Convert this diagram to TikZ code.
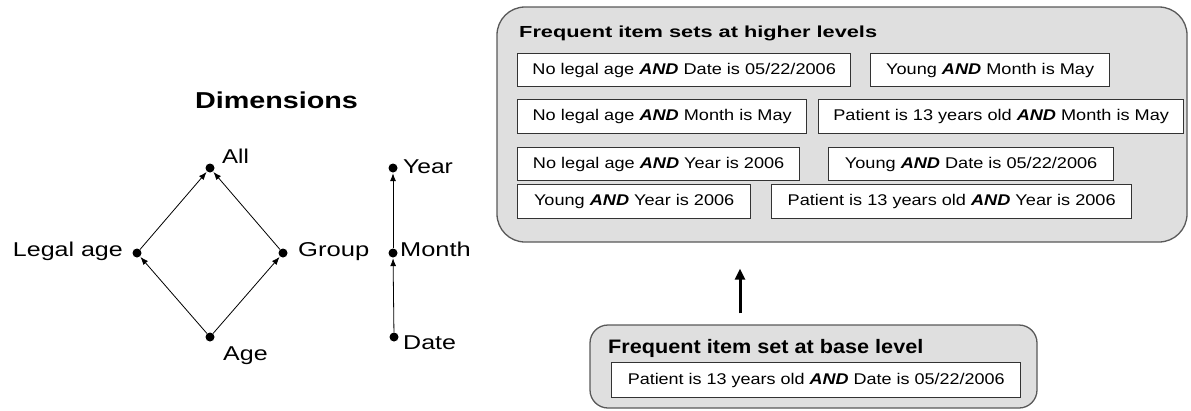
\documentclass[tikz,border=0pt]{standalone}
\usepackage{fontspec}
\setmainfont{Liberation Sans}
\usepackage{graphicx}
\usetikzlibrary{arrows.meta}
\newcommand{\hx}[2]{\scalebox{#1}[1]{#2}}
\newcommand{\AND}{\textbf{\textit{AND}}}
\begin{document}
\begin{tikzpicture}[x=1pt,y=-1pt,
  panel/.style={draw=black!65, line width=1.3pt, fill=gray!25, inner sep=0pt},
  item/.style={draw=black!80, line width=1.3pt, fill=white, inner sep=0pt, anchor=north west,
    minimum height=33pt, font=\fontsize{15.5}{18}\selectfont},
  ptitle/.style={anchor=base west, inner sep=0pt},
  dot/.style={circle, fill=black, inner sep=0pt, minimum size=9pt},
  lbl/.style={inner sep=0pt, font=\fontsize{20}{24}\selectfont},
  arr/.style={-{Latex[length=8pt,width=6pt]}, line width=0.8pt, shorten >=0.5pt},
  bigarr/.style={-{Triangle[length=11pt,width=10pt]}, line width=3pt}
]
\useasboundingbox (0,0) rectangle (1191,410);

% ---------- left: dimensions ----------
\node[lbl, anchor=base, font=\bfseries\fontsize{23}{27}\selectfont] (dimtitle) at (276.5,108) {\hx{1.25}{Dimensions}};

\node[dot] (all) at (210,168) {};
\node[dot] (legal) at (137,253) {};
\node[dot] (group) at (283,253) {};
\node[dot] (age) at (210,337) {};
\node[dot] (year) at (393,168) {};
\node[dot] (month) at (393,253) {};
\node[dot] (date) at (394,337) {};

\node[lbl, anchor=base west] (tall) at (222,163) {\hx{1.2}{All}};
\node[lbl, anchor=base east] (tlegal) at (123,256) {\hx{1.25}{Legal age}};
\node[lbl, anchor=base west] (tgroup) at (298,256) {\hx{1.28}{Group}};
\node[lbl, anchor=base west] (tage) at (223,360) {\hx{1.25}{Age}};
\node[lbl, anchor=base west] (tyear) at (403,173) {\hx{1.23}{Year}};
\node[lbl, anchor=base west] (tmonth) at (400,256) {\hx{1.27}{Month}};
\node[lbl, anchor=base west] (tdate) at (403,349) {\hx{1.25}{Date}};

\draw[arr] (legal) -- (all);
\draw[arr] (group) -- (all);
\draw[arr] (age) -- (legal);
\draw[arr] (age) -- (group);
\draw[arr] (date) -- (month);
\draw[arr] (month) -- (year);

% ---------- right: panels ----------
\node[panel, rounded corners=28pt, minimum width=690pt, minimum height=235pt] (high) at (842,124.5) {};
\node[panel, rounded corners=18pt, minimum width=447pt, minimum height=83pt] (base) at (813.5,366.5) {};

\node[ptitle, font=\bfseries\fontsize{16}{19}\selectfont] (hightitle) at (519,37) {\hx{1.36}{Frequent item sets at higher levels}};
\node[ptitle, font=\bfseries\fontsize{19.5}{23}\selectfont] (basetitle) at (608,353) {\hx{1.11}{Frequent item set at base level}};

\node[item, minimum width=333pt] (i11) at (517,53) {\hx{1.17}{No legal age \AND{} Date is 05/22/2006}};
\node[item, minimum width=239pt] (i12) at (870,53) {\hx{1.17}{Young \AND{} Month is May}};
\node[item, minimum width=289pt, minimum height=34pt] (i21) at (517,99) {\hx{1.17}{No legal age \AND{} Month is May}};
\node[item, minimum width=365pt, minimum height=34pt] (i22) at (818,99) {\hx{1.17}{Patient is 13 years old \AND{} Month is May}};
\node[item, minimum width=282pt] (i31) at (517,147) {\hx{1.17}{No legal age \AND{} Year is 2006}};
\node[item, minimum width=285pt] (i32) at (828,147) {\hx{1.17}{Young \AND{} Date is 05/22/2006}};
\node[item, minimum width=233pt, minimum height=34pt] (i41) at (517,184) {\hx{1.17}{Young \AND{} Year is 2006}};
\node[item, minimum width=360pt, minimum height=34pt] (i42) at (771,184) {\hx{1.17}{Patient is 13 years old \AND{} Year is 2006}};

\node[item, minimum width=409pt, minimum height=35pt] (b1) at (611,362) {\hx{1.16}{Patient is 13 years old \AND{} Date is 05/22/2006}};

\draw[bigarr, shorten <=11pt, shorten >=26pt] ([xshift=-73.5pt]base.north) -- ([xshift=-73.5pt]base.north |- high.south);
\end{tikzpicture}
\end{document}
